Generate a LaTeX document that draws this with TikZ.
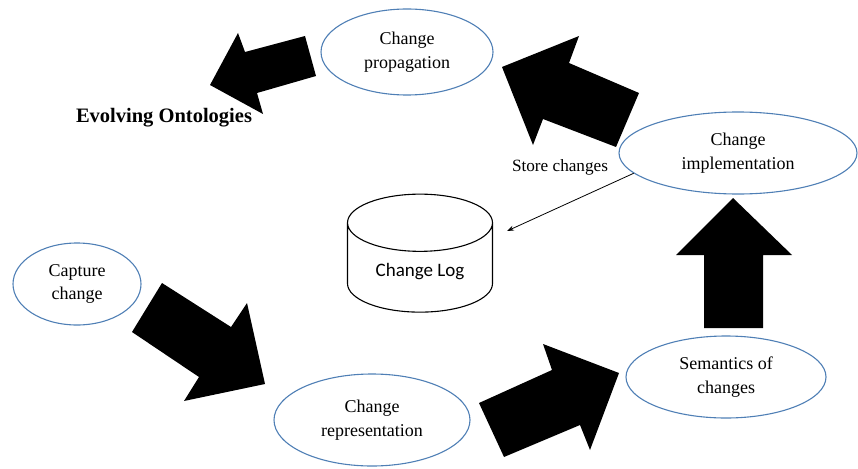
\documentclass[tikz,border=0pt]{standalone}
\usepackage{fontspec}
\setmainfont{Liberation Serif}
\newfontfamily\logfont{Carlito}
\usetikzlibrary{arrows.meta, positioning, shapes.geometric}
\definecolor{ovalblue}{HTML}{4F7FB5}

\begin{document}
\begin{tikzpicture}[
        x=1pt, y=-1pt,
        oval/.style={draw=ovalblue, ellipse, line width=1.1pt, inner sep=0pt,
                     align=center, font=\fontsize{18}{23.5}\selectfont},
        blockarr/.style={fill=black},
        arr/.style={-{Stealth[length=7pt, width=5pt]}, line width=0.8pt}
      ]
        \useasboundingbox (0,0) rectangle (858,468);
        % ellipses
        \node[oval, minimum width=172pt, minimum height=86pt] (prop) at (407,52)
              {Change\\propagation};
        \node[oval, minimum width=238pt, minimum height=82pt] (impl) at (738,153)
              {Change\\implementation};
        \node[oval, minimum width=128pt, minimum height=82pt] (capt) at (77,284)
              {Capture\\change};
        \node[oval, minimum width=196pt, minimum height=92pt] (repr) at (372,420)
              {Change\\representation};
        \node[oval, minimum width=200pt, minimum height=82pt] (sema) at (726,377)
              {Semantics of\\changes};
        % change log
        \node[draw, cylinder, shape border rotate=90, aspect=0.6,
              line width=1.1pt, minimum width=145pt, minimum height=118pt,
              font=\logfont\fontsize{19}{22}\selectfont] (log) at (420,272) {Change Log};
        % labels
        \node[font=\bfseries\fontsize{20.5}{23}\selectfont] (evol) at (164,118) {Evolving Ontologies};
        \node[font=\fontsize{17.2}{20}\selectfont] (store) at (560,167) {Store changes};
        % block arrows
        \fill[blockarr] (305,36) -- (316,76) -- (257,93) -- (263,114) -- (210,85)
              -- (238,33) -- (245,52) -- cycle;
        \fill[blockarr] (502,67) -- (579,36) -- (569,63) -- (639,93) -- (616,147)
              -- (543,119) -- (533,145) -- cycle;
        \fill[blockarr] (704,328) -- (763,328) -- (763,255) -- (792,255) -- (733,198)
              -- (676,255) -- (704,255) -- cycle;
        \fill[blockarr] (162,283) -- (231,327) -- (247,303) -- (265,384) -- (184,401)
              -- (199,377) -- (132,332) -- cycle;
        \fill[blockarr] (479,403) -- (552,370) -- (543,344) -- (619,373) -- (590,450)
              -- (580,425) -- (504,457) -- cycle;
        % store arrow
        \coordinate (login) at (507,231);
        \draw[arr] (impl.191) -- (login);
      \end{tikzpicture}
\end{document}
